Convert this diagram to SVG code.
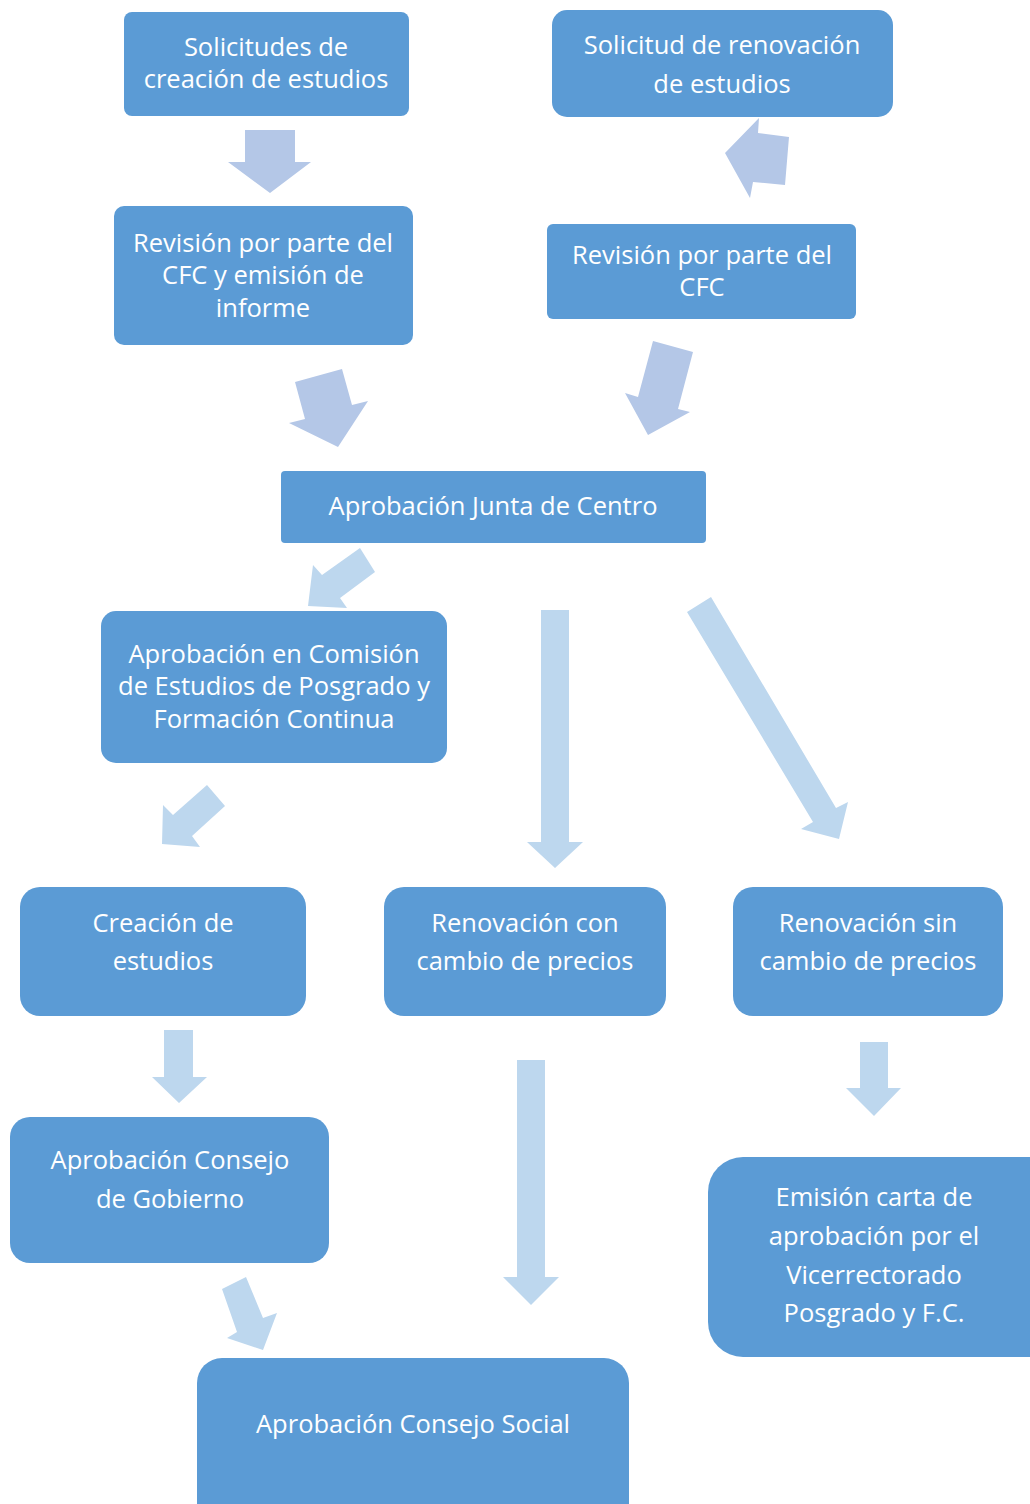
<svg xmlns="http://www.w3.org/2000/svg" width="1030" height="1504" viewBox="0 0 1030 1504">
<style>
.box{fill:#5B9BD5}
.t{font-family:"Open Sans","Liberation Sans",sans-serif;font-size:25.5px;fill:#FFFFFF;text-anchor:middle}
.a1{fill:#B4C7E7}
.a2{fill:#BDD7EE}
</style>
<rect width="1030" height="1504" fill="#FFFFFF"/>
<g id="connectors">
<polygon class="a1" points="245,130 295,130 295,162 311,162 270,193 228,162 245,162"/>
<polygon class="a1" points="759,118 758,133 789,137 785,185 753,182 750,198 725,153"/>
<polygon class="a1" points="295,382 342,369 352,405 368,401 338,447 289,423 305,419"/>
<polygon class="a1" points="653,341 693,352 678,409 690,412 648,435 625,393 638,397"/>
<polygon class="a2" points="360,548 375,572 340,598 347,608 308,606 313,565 322,575"/>
<polygon class="a2" points="207,785 225,806 192,836 200,847 162,844 163,805 173,815"/>
<polygon class="a2" points="541,610 569,610 569,842 583,842 555,868 527,842 541,842"/>
<polygon class="a2" points="687,612 711,597 836,808 848,802 839,839 801,829 813,822"/>
<polygon class="a2" points="164,1030 193,1030 193,1077 207,1077 179,1103 152,1077 164,1077"/>
<polygon class="a2" points="517,1060 545,1060 545,1277 559,1277 531,1305 503,1277 517,1277"/>
<polygon class="a2" points="860,1042 888,1042 888,1088 901,1088 874,1116 846,1088 860,1088"/>
<polygon class="a2" points="222,1289 246,1277 263,1318 277,1313 263,1350 227,1338 237,1332"/>
</g>
<g id="n1"><rect class="box" x="124" y="12" width="285" height="104" rx="8"/>
<text class="t" x="266" y="56">Solicitudes de</text><text class="t" x="266" y="88">creación de estudios</text></g>
<g id="n2"><rect class="box" x="552" y="10" width="341" height="107" rx="15"/>
<text class="t" x="722" y="54">Solicitud de renovación</text><text class="t" x="722" y="93">de estudios</text></g>
<g id="n3"><rect class="box" x="114" y="206" width="299" height="139" rx="10"/>
<text class="t" x="263" y="252">Revisión por parte del</text><text class="t" x="263" y="284">CFC y emisión de</text><text class="t" x="263" y="317">informe</text></g>
<g id="n4"><rect class="box" x="547" y="224" width="309" height="95" rx="6"/>
<text class="t" x="702" y="264">Revisión por parte del</text><text class="t" x="702" y="296">CFC</text></g>
<g id="n5"><rect class="box" x="281" y="471" width="425" height="72" rx="4"/>
<text class="t" x="493" y="515">Aprobación Junta de Centro</text></g>
<g id="n6"><rect class="box" x="101" y="611" width="346" height="152" rx="15"/>
<text class="t" x="274" y="663">Aprobación en Comisión</text><text class="t" x="274" y="695">de Estudios de Posgrado y</text><text class="t" x="274" y="728">Formación Continua</text></g>
<g id="n7"><rect class="box" x="20" y="887" width="286" height="129" rx="20"/>
<text class="t" x="163" y="932">Creación de</text><text class="t" x="163" y="970">estudios</text></g>
<g id="n8"><rect class="box" x="384" y="887" width="282" height="129" rx="20"/>
<text class="t" x="525" y="932">Renovación con</text><text class="t" x="525" y="970">cambio de precios</text></g>
<g id="n9"><rect class="box" x="733" y="887" width="270" height="129" rx="20"/>
<text class="t" x="868" y="932">Renovación sin</text><text class="t" x="868" y="970">cambio de precios</text></g>
<g id="n10"><rect class="box" x="10" y="1117" width="319" height="146" rx="20"/>
<text class="t" x="170" y="1169">Aprobación Consejo</text><text class="t" x="170" y="1208">de Gobierno</text></g>
<g id="n11"><rect class="box" x="708" y="1157" width="360" height="200" rx="35"/>
<text class="t" x="874" y="1206">Emisión carta de</text><text class="t" x="874" y="1245">aprobación por el</text><text class="t" x="874" y="1284">Vicerrectorado</text><text class="t" x="874" y="1322">Posgrado y F.C.</text></g>
<g id="n12"><rect class="box" x="197" y="1358" width="432" height="180" rx="25"/>
<text class="t" x="413" y="1433">Aprobación Consejo Social</text></g>
</svg>
